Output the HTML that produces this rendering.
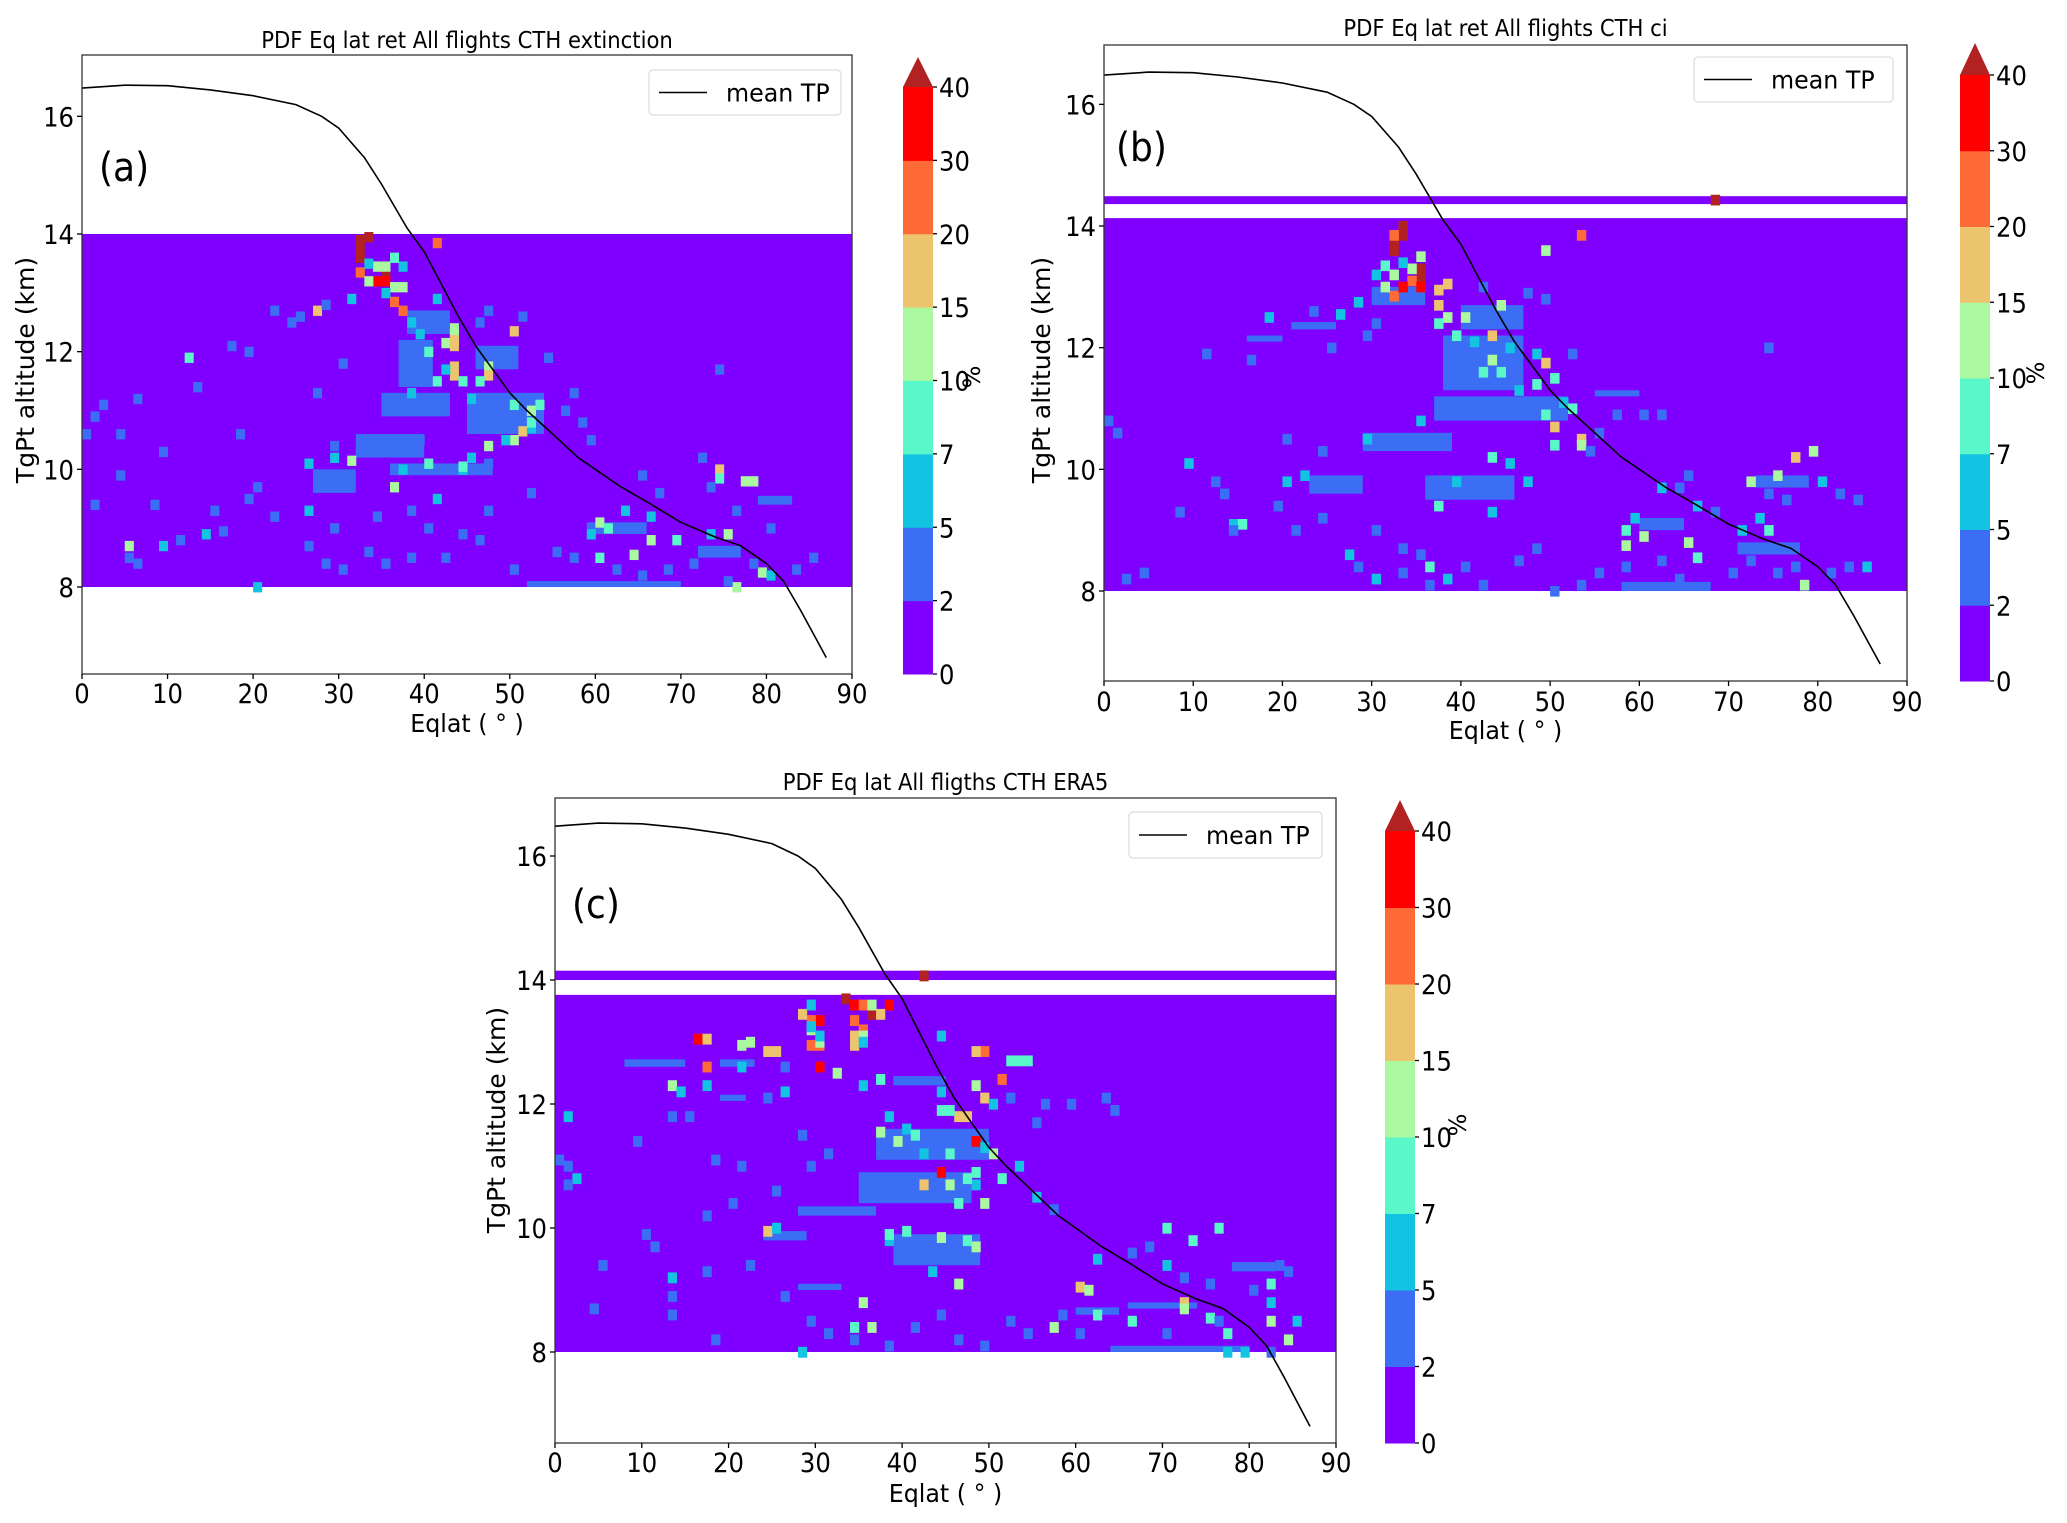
<!DOCTYPE html>
<html><head><meta charset="utf-8"><title>PDF Eq lat CTH panels</title>
<style>html,body{margin:0;padding:0;background:#fff;overflow:hidden}svg{display:block}</style></head>
<body>
<svg id="fig" xmlns="http://www.w3.org/2000/svg" width="2067" height="1523" viewBox="0 0 2067 1523" font-family="DejaVu Sans, Liberation Sans, sans-serif"></svg>
<script>
// ---------- data ----------
const levels = [0, 2, 5, 7, 10, 15, 20, 30, 40];
const levelColors = ['#7f00ff','#3c6ef5','#13c3e2','#5af8c8','#aaf8a0','#ecc46e','#ff6b36','#ff0000'];
const overColor = '#b22222';
const xTicks = [0,10,20,30,40,50,60,70,80,90];
const yTicks = [8,10,12,14,16];
const tpLat = [0,5,10,15,20,25,28,30,33,35,38,40,42,44,46,48,50,52,55,58,60,63,66,70,74,77,80,82,84,87];
const tpAlt = [16.48,16.53,16.52,16.45,16.35,16.2,16.0,15.8,15.3,14.85,14.1,13.7,13.15,12.6,12.1,11.7,11.3,11.0,10.6,10.2,10.0,9.7,9.45,9.1,8.85,8.7,8.4,8.1,7.6,6.8];
// background bands (value 0-2)
const bandsA = [[8,14]];
const bandsB = [[8,14.13],[14.36,14.49]];
const bandsC = [[8,13.76],[14.0,14.15]];
// blue blocks [lat0,lat1,alt0,alt1,value]
const blocksA = [[37,41,11.4,12.2,3],[35,43,10.9,11.3,3],[45,54,10.6,11.3,3],[46,51,11.7,12.1,3],[32,40,10.2,10.6,3],[27,32,9.6,10.0,3],[36,48,9.9,10.1,3],[59,66,8.9,9.1,3],[72,77,8.5,8.7,3],[52,70,8.0,8.1,3],[79,83,9.4,9.55,3],[38,43,12.3,12.7,3]];
const blocksB = [[38,47,11.3,12.2,3],[37,52,10.8,11.2,3],[40,47,12.3,12.7,3],[30,36,12.7,13.0,3],[29,39,10.3,10.6,3],[23,29,9.6,9.9,3],[36,46,9.5,9.9,3],[55,60,11.2,11.3,3],[73,79,9.7,9.9,3],[60,65,9.0,9.2,3],[71,78,8.6,8.8,3],[58,68,8.0,8.15,3],[21,26,12.3,12.42,3],[16,20,12.1,12.2,3]];
const blocksC = [[8,15,12.6,12.72,3],[19,23,12.6,12.72,3],[39,45,12.3,12.45,3],[37,50,11.1,11.6,3],[35,48,10.4,10.9,3],[28,37,10.2,10.35,3],[24,29,9.8,9.95,3],[39,49,9.4,9.9,3],[28,33,9.0,9.1,3],[60,65,8.6,8.72,3],[66,74,8.7,8.8,3],[78,83,9.3,9.45,3],[64,80,8.0,8.1,3],[19,22,12.05,12.15,3]];
// single cells [lat, alt, value%]
const cellsA = [[32,13.9,45],[32,13.75,45],[32,13.6,45],[33,13.95,45],[35,13.3,45],[34,13.2,35],[35,13.2,35],[41,13.85,25],[32,13.35,25],[36,12.85,25],[37,12.7,25],
[34,13.45,12],[35,13.45,12],[33,13.2,12],[37,13.1,12],[36,13.1,12],[43,12.4,12],[43,12.3,12],[42,12.15,12],[47,11.75,12],[52,11.0,12],[47,10.4,12],[50,10.5,12],[31,10.15,12],[36,9.7,12],[5,8.7,12],[66,8.8,12],[64,8.55,12],[75,8.9,12],[78,9.8,12],[77,9.8,12],[79,8.25,12],[76,8.0,12],[60,9.1,12],
[27,12.7,17],[50,12.35,17],[43,12.2,17],[43,12.1,17],[43,11.75,17],[43,11.6,17],[47,11.6,17],[51,10.65,17],[74,10.0,17],
[33,13.5,6],[37,13.45,6],[31,12.9,6],[38,12.5,6],[35,13.0,6],[41,12.9,6],[39,12.3,6],[38,11.3,6],[42,11.7,6],[45,11.2,6],[49,10.5,6],[52,10.7,6],[29,10.2,6],[26,10.1,6],[37,10.0,6],[44,10.0,6],[41,9.5,6],[26,9.3,6],[59,8.9,6],[63,9.3,6],[73,8.9,6],[80,8.2,6],[20,8.0,6],[14,8.9,6],[9,8.7,6],[66,9.2,6],[45,10.2,6],
[44,11.5,8],[46,11.5,8],[40,12.0,8],[41,11.5,8],[52,10.8,8],[50,11.1,8],[53,11.1,8],[44,10.05,8],[40,10.1,8],[36,13.6,8],[12,11.9,8],[61,9.0,8],[60,8.5,8],[69,8.8,8],[74,9.85,8],
[1,10.9,3],[2,11.1,3],[0,10.6,3],[6,11.2,3],[4,10.6,3],[13,11.4,3],[9,10.3,3],[18,10.6,3],[17,12.1,3],[19,12.0,3],[22,12.7,3],[25,12.6,3],[24,12.5,3],[28,12.8,3],[30,11.8,3],[27,11.3,3],[29,10.4,3],[20,9.7,3],[19,9.5,3],[22,9.2,3],[15,9.3,3],[8,9.4,3],[1,9.4,3],[11,8.8,3],[5,8.5,3],[6,8.4,3],[16,8.95,3],[26,8.7,3],[28,8.4,3],[30,8.3,3],[33,8.6,3],[35,8.4,3],[38,8.5,3],[42,8.5,3],[44,8.9,3],[46,8.8,3],[50,8.3,3],[55,8.6,3],[57,8.5,3],[62,8.3,3],[65,8.2,3],[68,8.3,3],[71,8.4,3],[75,8.1,3],[78,8.4,3],[83,8.3,3],[85,8.5,3],[73,9.7,3],[72,10.2,3],[76,9.3,3],[80,9.0,3],[65,9.9,3],[67,9.6,3],[57,11.3,3],[58,10.8,3],[59,10.5,3],[56,11.0,3],[54,11.9,3],[51,12.6,3],[47,12.7,3],[46,12.5,3],[74,11.7,3],[4,9.9,3],[29,9.0,3],[34,9.2,3],[38,9.3,3],[40,9.0,3],[47,9.3,3],[52,9.6,3],[33,10.4,3],[39,10.5,3],[47,10.1,3]];
const cellsB = [[68,14.43,45],[32,13.75,45],[32,13.6,45],[33,14.0,45],[33,13.85,45],[35,13.3,45],[35,13.15,45],[32,13.85,25],[53,13.85,25],[34,13.1,25],[32,12.85,25],[35,13.0,35],[33,13.0,35],
[37,12.95,17],[38,13.05,17],[37,12.7,17],[43,12.2,17],[49,11.75,17],[50,10.7,17],[53,10.5,17],[77,10.2,17],
[35,13.5,12],[34,13.3,12],[32,13.2,12],[31,13.0,12],[38,12.5,12],[40,12.5,12],[44,12.7,12],[43,11.8,12],[53,10.4,12],[75,9.9,12],[72,9.8,12],[79,10.3,12],[65,8.8,12],[60,8.9,12],[58,8.75,12],[78,8.1,12],[49,13.6,12],
[33,13.4,6],[30,13.2,6],[28,12.75,6],[26,12.55,6],[18,12.5,6],[41,12.1,6],[45,12.0,6],[48,11.9,6],[46,11.3,6],[51,11.1,6],[35,10.8,6],[29,10.5,6],[9,10.1,6],[20,9.8,6],[22,9.9,6],[39,9.8,6],[43,9.3,6],[45,10.1,6],[59,9.2,6],[62,9.7,6],[66,9.4,6],[73,9.2,6],[71,9.0,6],[80,9.8,6],[85,8.4,6],[14,9.1,6],[27,8.6,6],[30,8.2,6],[38,8.2,6],[47,9.8,6],
[31,13.35,8],[37,12.4,8],[39,12.2,8],[42,11.6,8],[44,11.6,8],[48,11.4,8],[50,11.5,8],[52,11.0,8],[49,10.9,8],[50,10.4,8],[43,10.2,8],[37,9.4,8],[58,9.0,8],[66,8.55,8],[74,9.0,8],[36,8.4,8],[15,9.1,8],
[0,10.8,3],[1,10.6,3],[8,9.3,3],[4,8.3,3],[2,8.2,3],[14,9.0,3],[13,9.6,3],[12,9.8,3],[11,11.9,3],[16,11.8,3],[23,12.6,3],[25,12.0,3],[29,12.2,3],[30,12.4,3],[24,10.3,3],[20,10.5,3],[19,9.4,3],[24,9.2,3],[21,9.0,3],[30,9.0,3],[33,8.7,3],[35,8.6,3],[28,8.4,3],[33,8.3,3],[36,8.1,3],[40,8.4,3],[42,8.1,3],[46,8.5,3],[48,8.7,3],[50,8.0,3],[53,8.1,3],[55,8.3,3],[58,8.4,3],[62,8.5,3],[64,8.2,3],[70,8.3,3],[72,8.5,3],[75,8.3,3],[77,8.4,3],[81,8.3,3],[83,8.4,3],[84,9.5,3],[82,9.6,3],[76,9.5,3],[74,9.6,3],[68,9.3,3],[65,9.9,3],[64,9.7,3],[55,10.6,3],[57,10.9,3],[60,10.9,3],[62,10.9,3],[54,10.3,3],[52,11.9,3],[49,12.8,3],[47,12.9,3],[74,12.0,3],[42,13.0,3]];
const cellsC = [[42,14.07,45],[33,13.7,45],[36,13.45,45],
[34,13.6,35],[38,13.6,35],[30,13.35,35],[16,13.05,35],[30,12.6,35],[48,11.4,35],[44,10.9,35],
[35,13.6,25],[29,13.35,25],[34,13.35,25],[35,13.2,25],[29,12.95,25],[30,12.95,25],[17,12.6,25],[49,12.85,25],[51,12.4,25],
[37,13.45,17],[28,13.45,17],[34,13.1,17],[17,13.05,17],[24,12.85,17],[25,12.85,17],[34,12.95,17],[48,12.85,17],[47,11.8,17],[46,11.8,17],[49,12.1,17],[42,10.7,17],[60,9.05,17],[24,9.95,17],[72,8.8,17],
[36,13.6,12],[35,13.1,12],[29,13.2,12],[30,13.0,12],[21,12.95,12],[22,13.0,12],[32,12.5,12],[13,12.3,12],[37,11.55,12],[39,11.4,12],[48,12.3,12],[50,11.2,12],[45,10.7,12],[49,10.4,12],[44,9.85,12],[46,9.1,12],[48,9.7,12],[57,8.4,12],[84,8.2,12],[82,8.5,12],[61,9.0,12],[72,8.7,12],[35,8.8,12],[36,8.4,12],
[29,13.6,6],[29,13.25,6],[30,13.1,6],[35,13.0,6],[44,13.1,6],[21,12.6,6],[17,12.3,6],[14,12.2,6],[26,12.2,6],[38,11.8,6],[35,12.3,6],[44,12.2,6],[50,12.0,6],[53,11.0,6],[49,11.3,6],[40,11.6,6],[42,11.2,6],[48,10.7,6],[55,10.5,6],[25,10.0,6],[38,9.8,6],[43,9.3,6],[62,9.5,6],[70,9.4,6],[82,8.8,6],[85,8.5,6],[79,8.0,6],[77,8.0,6],[1,11.8,6],[2,10.8,6],[13,9.2,6],[28,8.0,6],
[37,12.4,8],[53,12.7,8],[54,12.7,8],[52,12.7,8],[44,11.9,8],[45,11.9,8],[41,11.5,8],[45,11.2,8],[47,10.8,8],[48,10.9,8],[51,10.8,8],[46,10.4,8],[40,9.95,8],[38,9.9,8],[47,9.8,8],[73,9.8,8],[70,10.0,8],[76,10.0,8],[62,8.6,8],[66,8.5,8],[75,8.55,8],[77,8.3,8],[34,8.4,8],[82,9.1,8],
[0,11.1,3],[1,11.0,3],[1,10.7,3],[5,9.4,3],[4,8.7,3],[10,9.9,3],[11,9.7,3],[9,11.4,3],[13,11.8,3],[15,11.8,3],[18,11.1,3],[21,11.0,3],[25,10.6,3],[20,10.4,3],[17,10.2,3],[22,9.4,3],[17,9.3,3],[13,8.6,3],[13,8.9,3],[18,8.2,3],[26,8.9,3],[29,8.5,3],[31,8.3,3],[34,8.2,3],[38,8.1,3],[41,8.4,3],[44,8.6,3],[46,8.2,3],[49,8.1,3],[52,8.5,3],[54,8.3,3],[58,8.6,3],[60,8.3,3],[66,9.6,3],[68,9.7,3],[72,9.2,3],[75,9.1,3],[80,9.0,3],[83,9.4,3],[84,9.3,3],[76,8.5,3],[70,8.3,3],[82,8.0,3],[59,12.0,3],[63,12.1,3],[64,11.9,3],[56,12.0,3],[55,11.7,3],[57,10.3,3],[52,12.1,3],[26,12.6,3],[24,12.1,3],[28,11.5,3],[31,11.2,3],[29,11.0,3]];

// ---------- layout ----------
const panels = [
 {id:'a', title:'PDF Eq lat ret All flights CTH extinction', L:82, R:852, T:55, B:674, y8:587, y14:234, bands:bandsA, blocks:blocksA, cells:cellsA,
  cb:{x:903,w:30,y0:674,y40:87,tip:57}, leg:{x:649,y:70,w:192,h:45}, letter:{x:99,y:181}, titleY:48, tickY:703, xlabY:732, ylab:{x:34,y:370}, pct:{x:980,y:377}},
 {id:'b', title:'PDF Eq lat ret All flights CTH ci', L:1104, R:1907, T:45, B:681, y8:591, y14:226, bands:bandsB, blocks:blocksB, cells:cellsB,
  cb:{x:1960,w:30,y0:681,y40:75,tip:43}, leg:{x:1694,y:57,w:199,h:45}, letter:{x:1116,y:161}, titleY:36, tickY:711, xlabY:739, ylab:{x:1050,y:370}, pct:{x:2044,y:373}},
 {id:'c', title:'PDF Eq lat All fligths CTH ERA5', L:555, R:1336, T:798, B:1443, y8:1352, y14:980, bands:bandsC, blocks:blocksC, cells:cellsC,
  cb:{x:1385,w:30,y0:1443,y40:831,tip:800}, leg:{x:1129,y:812,w:193,h:46}, letter:{x:572,y:918}, titleY:790, tickY:1472, xlabY:1502, ylab:{x:505,y:1120}, pct:{x:1466,y:1125}}
];

const NS='http://www.w3.org/2000/svg';
const svg=document.getElementById('fig');
function mk(tag, attrs, parent){const e=document.createElementNS(NS,tag);for(const k in attrs)e.setAttribute(k,attrs[k]);(parent||svg).appendChild(e);return e;}
function txt(parent,s,x,y,size,anchor,sx){
  const t=mk('text',{transform:`translate(${x},${y}) scale(${sx},1)`,'font-size':size,'text-anchor':anchor||'start',fill:'#000'},parent);
  t.textContent=s;return t;}
function colorFor(v){if(v>=40)return overColor;for(let i=levels.length-2;i>=0;i--){if(v>=levels[i])return levelColors[i];}return levelColors[0];}

panels.forEach(p=>{
  const g=mk('g',{});
  
  
  const kmPx=(p.y8-p.y14)/6;
  const xs=lat=>p.L+(p.R-p.L)*lat/90;
  const ys=alt=>p.y8-(alt-8)*kmPx;
  const cellW=(p.R-p.L)/90, cellH=kmPx*0.167;
  const clip=mk('clipPath',{id:'clip'+p.id},g);
  mk('rect',{x:p.L,y:p.T,width:p.R-p.L,height:p.B-p.T},clip);
  const plot=mk('g',{'clip-path':`url(#clip${p.id})`},g);
  
  
  p.bands.forEach(b=>{
    const r=mk('rect',{x:xs(0),y:ys(b[1]),width:xs(90)-xs(0),height:ys(b[0])-ys(b[1]),fill:colorFor(1)},plot);
    
    
  });
  p.blocks.forEach(b=>{
    const r=mk('rect',{x:xs(b[0]),y:ys(b[3]),width:xs(b[1])-xs(b[0]),height:ys(b[2])-ys(b[3]),fill:colorFor(b[4])},plot);
    
    
  });
  p.cells.forEach(c=>{
    const r=mk('rect',{x:xs(c[0]),y:ys(c[1])-cellH/2,width:cellW+0.5,height:cellH+0.5,fill:colorFor(c[2])},plot);
    
    
  });
  const d=tpLat.map((la,i)=>(i?'L':'M')+xs(la).toFixed(1)+','+ys(tpAlt[i]).toFixed(1)).join(' ');
  const line=mk('path',{d:d,fill:'none',stroke:'#000','stroke-width':1.6},plot);
  
  
  const fr=mk('rect',{x:p.L,y:p.T,width:p.R-p.L,height:p.B-p.T,fill:'none',stroke:'#333','stroke-width':1.3},g);
  
  
  xTicks.forEach(v=>{
    mk('line',{x1:xs(v),x2:xs(v),y1:p.B,y2:p.B+5,stroke:'#000','stroke-width':1.3},g);
    const t=txt(g,String(v),xs(v),p.tickY,27,'middle',0.9);
    
    
  });
  yTicks.forEach(v=>{
    mk('line',{x1:p.L-5,x2:p.L,y1:ys(v),y2:ys(v),stroke:'#000','stroke-width':1.3},g);
    const t=txt(g,String(v),p.L-8,ys(v)+10,27,'end',0.9);
    
    
  });
  const ti=txt(g,p.title,(p.L+p.R)/2,p.titleY,23,'middle',0.92);
  
  
  const xl=txt(g,'Eqlat ( ° )',(p.L+p.R)/2,p.xlabY,25,'middle',0.95);
  
  
  const yl=mk('text',{transform:`translate(${p.ylab.x},${p.ylab.y}) rotate(-90)`,'font-size':25,'text-anchor':'middle',fill:'#000'},g);
  yl.textContent='TgPt altitude (km)';
  
  
  const le=txt(g,'('+p.id+')',p.letter.x,p.letter.y,40,'start',0.9);
  
  
  const lg=mk('g',{},g);
  
  
  mk('rect',{x:p.leg.x,y:p.leg.y,width:p.leg.w,height:p.leg.h,rx:4,fill:'#fff',stroke:'#ddd','stroke-width':1.3},lg);
  mk('line',{x1:p.leg.x+10,x2:p.leg.x+58,y1:p.leg.y+p.leg.h/2,y2:p.leg.y+p.leg.h/2,stroke:'#000','stroke-width':1.6},lg);
  const lt=txt(lg,'mean TP',p.leg.x+77,p.leg.y+p.leg.h/2+9,25,'start',0.95);
  
  
  const cb=mk('g',{},g);
  
  
  const step=(p.cb.y0-p.cb.y40)/(levels.length-1);
  levelColors.forEach((c,i)=>{
    const r=mk('rect',{x:p.cb.x,y:p.cb.y0-(i+1)*step,width:p.cb.w,height:step+0.5,fill:c},cb);
    
    
  });
  const tri=mk('polygon',{points:`${p.cb.x},${p.cb.y40} ${p.cb.x+p.cb.w},${p.cb.y40} ${p.cb.x+p.cb.w/2},${p.cb.tip}`,fill:overColor},cb);
  
  
  levels.forEach((v,i)=>{
    const y=p.cb.y0-i*step;
    mk('line',{x1:p.cb.x+p.cb.w,x2:p.cb.x+p.cb.w+4,y1:y,y2:y,stroke:'#000','stroke-width':1.3},cb);
    const t=txt(cb,String(v),p.cb.x+p.cb.w+6,y+10,27,'start',0.9);
    
    
  });
  const pc=mk('text',{transform:`translate(${p.pct.x},${p.pct.y}) rotate(-90)`,'font-size':24,'text-anchor':'middle',fill:'#000'},cb);
  pc.textContent='%';
  
  
});
</script>
</body></html>
